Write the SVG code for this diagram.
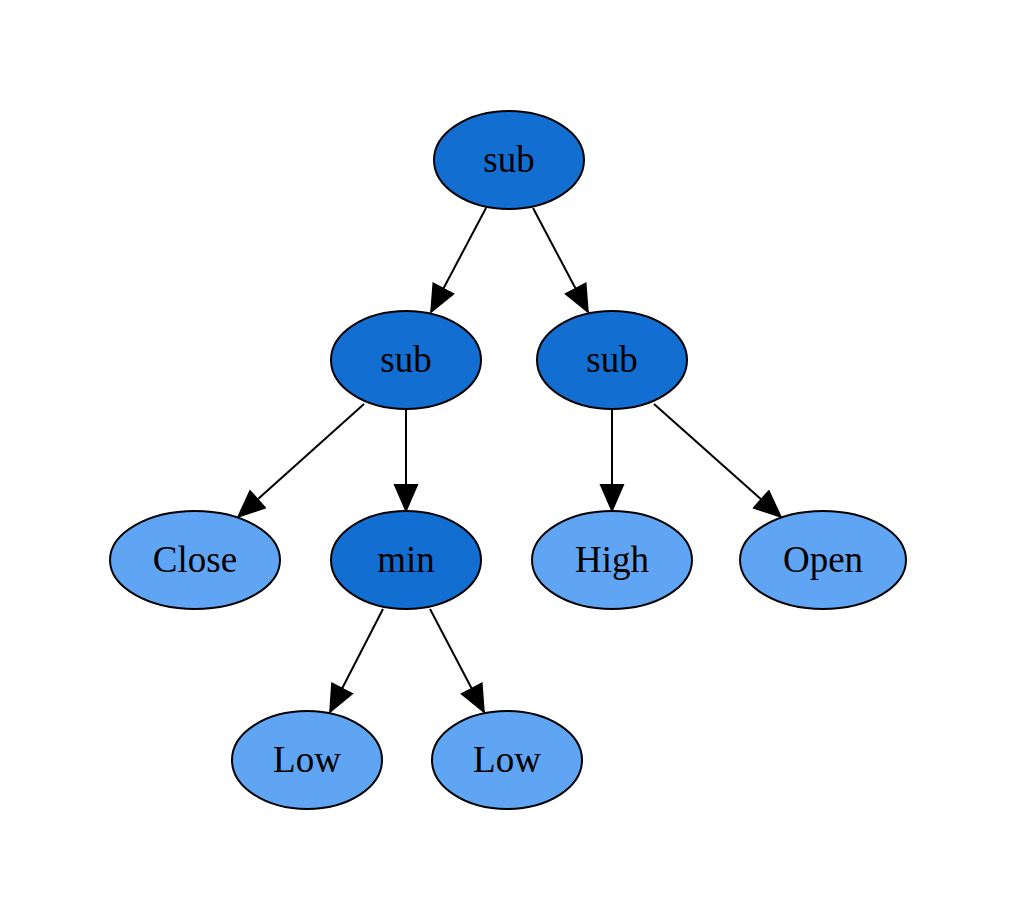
<svg xmlns="http://www.w3.org/2000/svg" width="1017" height="923" viewBox="0 0 1017 923">
<style>
.n ellipse{stroke:#000;stroke-width:2}
.op ellipse{fill:#136ed2}
.leaf ellipse{fill:#60a5f4}
.n text{font-family:"Liberation Serif","Times New Roman",serif;font-size:37px;fill:#000;text-anchor:middle;dominant-baseline:central}
#edges line{stroke:#000;stroke-width:2;marker-end:url(#ah)}
</style>
<defs>
<marker id="ah" markerUnits="userSpaceOnUse" markerWidth="29" markerHeight="26" refX="27.5" refY="12.5" orient="auto" viewBox="0 0 29 26">
<path d="M1,1 L27.5,12.5 L1,24 z" fill="#000" stroke="#000" stroke-width="1.5"/>
</marker>
</defs>
<rect width="1017" height="923" fill="#fff"/>
<g id="edges">
<line x1="486" y1="208" x2="431" y2="312"/>
<line x1="533" y1="208" x2="588" y2="312"/>
<line x1="364" y1="404" x2="238" y2="517"/>
<line x1="406" y1="410" x2="406" y2="511"/>
<line x1="612" y1="410" x2="612" y2="511"/>
<line x1="654" y1="404" x2="781" y2="517"/>
<line x1="383" y1="609" x2="330" y2="712"/>
<line x1="430" y1="609" x2="484" y2="712"/>
</g>
<g id="n0" class="n op"><ellipse cx="509" cy="160" rx="75" ry="49"/><text x="509" y="159">sub</text></g>
<g id="n1" class="n op"><ellipse cx="406" cy="360" rx="75" ry="49"/><text x="406" y="359">sub</text></g>
<g id="n2" class="n op"><ellipse cx="612" cy="360" rx="75" ry="49"/><text x="612" y="359">sub</text></g>
<g id="n3" class="n leaf"><ellipse cx="195" cy="560" rx="85" ry="49"/><text x="195" y="559">Close</text></g>
<g id="n4" class="n op"><ellipse cx="406" cy="560" rx="75" ry="49"/><text x="406" y="559">min</text></g>
<g id="n5" class="n leaf"><ellipse cx="612" cy="560" rx="80" ry="49"/><text x="612" y="559">High</text></g>
<g id="n6" class="n leaf"><ellipse cx="823" cy="560" rx="83" ry="49"/><text x="823" y="559">Open</text></g>
<g id="n7" class="n leaf"><ellipse cx="307" cy="760" rx="75" ry="49"/><text x="307" y="759">Low</text></g>
<g id="n8" class="n leaf"><ellipse cx="507" cy="760" rx="75" ry="49"/><text x="507" y="759">Low</text></g>
</svg>
